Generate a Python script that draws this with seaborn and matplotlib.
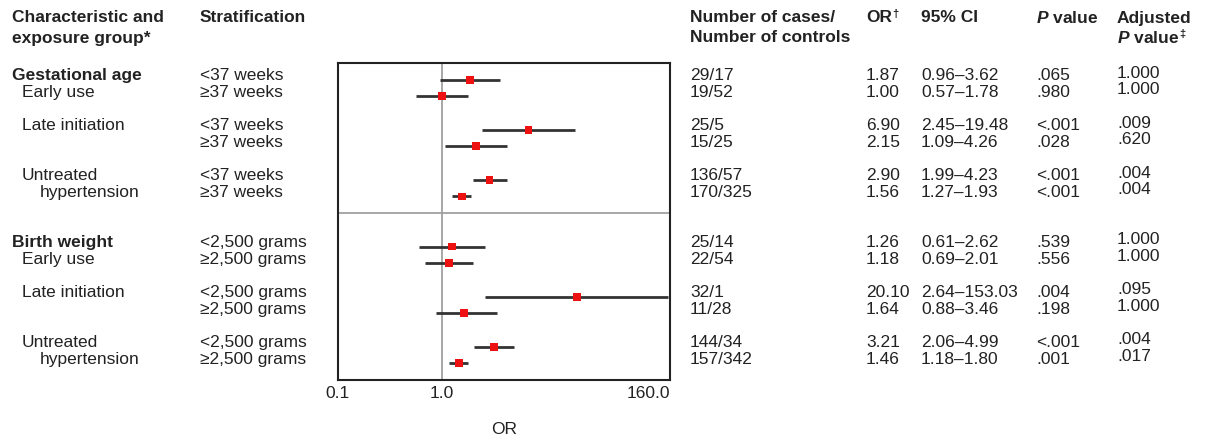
import numpy as np
import pandas as pd
import seaborn as sns
import matplotlib.pyplot as plt
from matplotlib.ticker import NullLocator
from matplotlib.transforms import blended_transform_factory

sns.set_theme(style="white")
plt.rcParams['font.family'] = ['Liberation Sans', 'DejaVu Sans']
plt.rcParams['mathtext.fontset'] = 'custom'
plt.rcParams['mathtext.rm'] = 'Liberation Sans'
plt.rcParams['mathtext.bfit'] = 'Liberation Sans:italic:bold'

## data
characteristic = ["Gestational age"] * 6 + ["Birth weight"] * 6
exposure = ["Early use", "Early use", "Late initiation", "Late initiation",
            "Untreated hypertension", "Untreated hypertension"] * 2
strat = ["<37 weeks", "≥37 weeks"] * 3 + ["<2,500 grams", "≥2,500 grams"] * 3
cases_controls = ["29/17", "19/52", "25/5", "15/25", "136/57", "170/325",
                  "25/14", "22/54", "32/1", "11/28", "144/34", "157/342"]
odds = [1.87, 1.00, 6.90, 2.15, 2.90, 1.56, 1.26, 1.18, 20.10, 1.64, 3.21, 1.46]
ci_low = [0.96, 0.57, 2.45, 1.09, 1.99, 1.27, 0.61, 0.69, 2.64, 0.88, 2.06, 1.18]
ci_high = [3.62, 1.78, 19.48, 4.26, 4.23, 1.93, 2.62, 2.01, 153.03, 3.46, 4.99, 1.80]
p_value = [".065", ".980", "<.001", ".028", "<.001", "<.001",
           ".539", ".556", ".004", ".198", "<.001", ".001"]
adj_p = ["1.000", "1.000", ".009", ".620", ".004", ".004",
         "1.000", "1.000", ".095", "1.000", ".004", ".017"]
x_ticks = [0.1, 1.0, 160.0]
x_tick_labels = ["0.1", "1.0", "160.0"]

df = pd.DataFrame({"characteristic": characteristic, "exposure": exposure,
                   "strat": strat, "n": cases_controls, "OR": odds,
                   "lo": ci_low, "hi": ci_high, "p": p_value, "adj": adj_p})
# row layout: pairs of rows, gap between pairs, bigger gap between characteristics
idx = np.arange(len(df))
df["row"] = (idx // 6) * 10 + ((idx % 6) // 2) * 3 + idx % 2

W, H = 1212, 441
fig = plt.figure(figsize=(W / 100, H / 100), dpi=100)
ax = fig.add_axes([338 / W, 1 - 380 / H, (670 - 338) / W, (380 - 63) / H])
ax.set_xscale("log")

ax.axvline(1.0, color="#a0a0a0", lw=1.3, zorder=1)
ax.axhline(8, color="#a0a0a0", lw=1.3, zorder=1)
ax.hlines(df["row"], df["lo"], df["hi"], color="#333333", lw=2, zorder=2)
sns.scatterplot(data=df, x="OR", y="row", marker="s", color="#ee1111",
                s=32, edgecolor="none", zorder=3, ax=ax)

fs = 12.5
tc = "#222222"

ax.set_xlim(0.1, 160)
ax.set_ylim(18, -1)
ax.set_xticks(x_ticks)
ax.set_xticklabels(x_tick_labels)
ax.get_xticklabels()[-1].set_ha("right")
ax.xaxis.set_minor_locator(NullLocator())
ax.set_yticks([])
ax.set_xlabel("")
ax.set_ylabel("")
ax.tick_params(axis="x", length=0, pad=4, labelsize=fs, colors=tc)
for s in ax.spines.values():
    s.set_color("#222222")
    s.set_linewidth(1.5)

fig.text(504 / W, 1 - 430 / H, "OR", ha="center", va="center", fontsize=fs, color=tc)

## header
def head(x, y, s, **kw):
    kw.setdefault("fontsize", fs)
    fig.text(x / W, 1 - y / H, s, ha="left", va="center",
             fontweight="bold", color=tc, **kw)

head(12, 18, "Characteristic and")
head(12, 38, "exposure group*")
head(200, 18, "Stratification")
head(690, 18, "Number of cases/")
head(690, 38, "Number of controls")
head(866, 18, "OR")
head(892, 14, "†", fontsize=8)
head(921, 18, "95% CI")
head(1036, 18, r"$\bfit{P}$ value")
head(1117, 18, "Adjusted")
head(1117, 38, r"$\bfit{P}$ value")
head(1179, 34, "‡", fontsize=8)

## row texts, y in data units of the axes
tr = blended_transform_factory(fig.transFigure, ax.transData)
def cell(x, y, s, **kw):
    fig.text(x / W, y - 0.25, s, transform=tr, ha="left", va="center",
             fontsize=fs, color=tc, **kw)

for _, r in df.iterrows():
    y = r["row"]
    cell(200, y, r["strat"])
    cell(690, y, r["n"])
    cell(866, y, "{:.2f}".format(r["OR"]))
    cell(921, y, "{:.2f}\u2013{:.2f}".format(r["lo"], r["hi"]))
    cell(1036, y, r["p"])
    cell(1117, y - 0.15, r["adj"])

for name, grp in df.groupby("characteristic", sort=False):
    top = grp["row"].min()
    cell(12, top, name, fontweight="bold")
    for expo, sub in grp.groupby("exposure", sort=False):
        y0 = sub["row"].min()
        if expo == "Untreated hypertension":
            cell(22, y0, "Untreated")
            cell(40, y0 + 1, "hypertension")
        elif expo == "Early use":
            cell(22, y0 + 1, expo)
        else:
            cell(22, y0, expo)

fig.savefig("out.png", dpi=100)
